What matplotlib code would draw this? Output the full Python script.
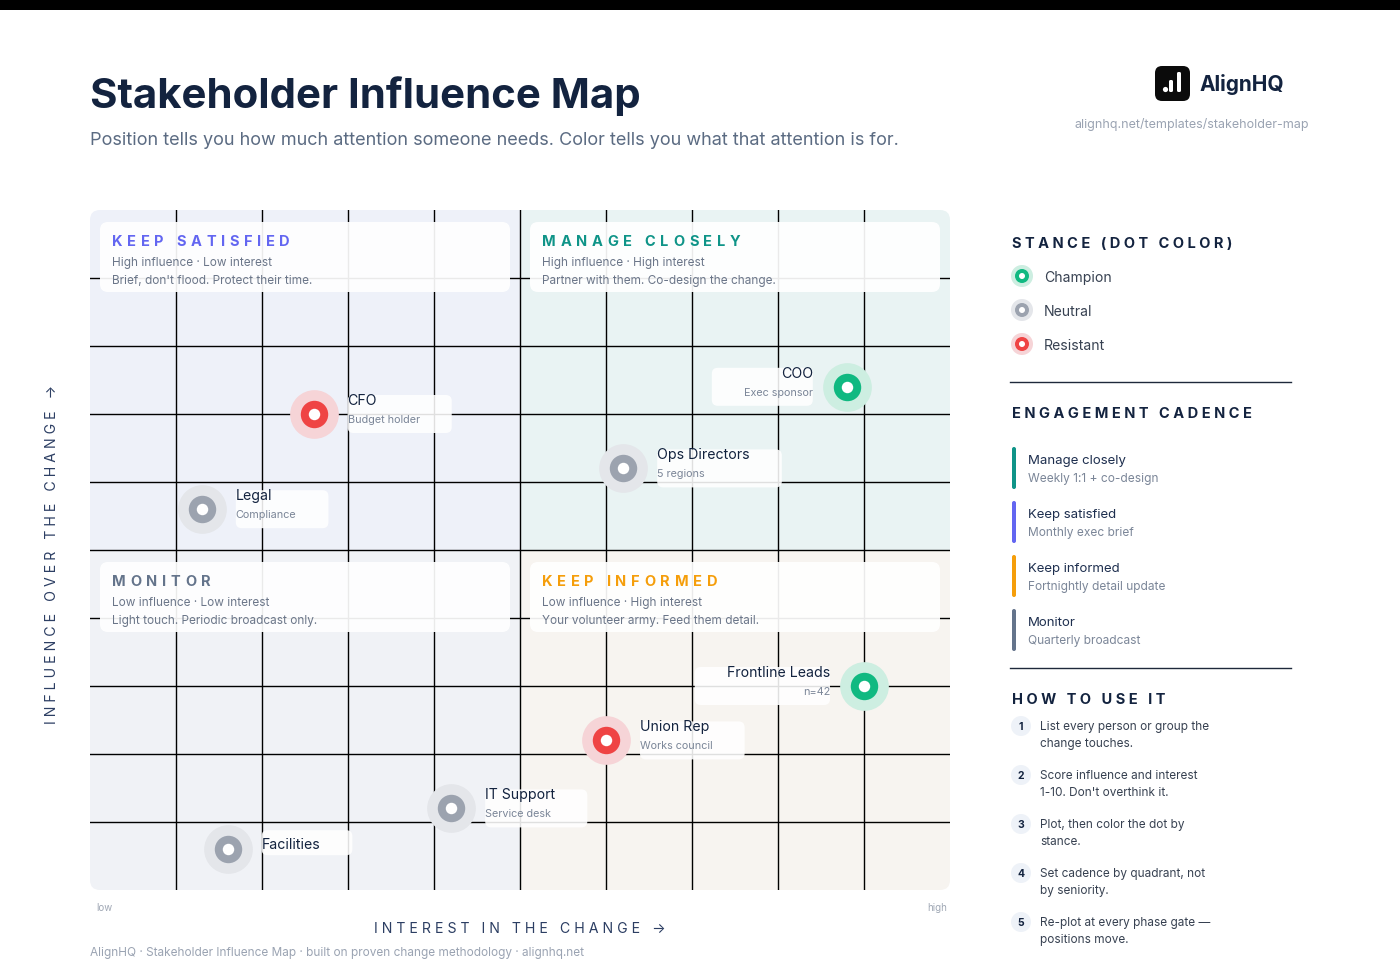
import matplotlib
matplotlib.use("Agg")
import matplotlib.pyplot as plt
import matplotlib.transforms as mtransforms
from matplotlib.patches import FancyBboxPatch, Rectangle, Circle
from matplotlib.lines import Line2D
from matplotlib.font_manager import FontProperties

W, H = 1400, 980

# stakeholders: interest (x), influence (y), both 0-10
names = ["CFO", "COO", "Ops Directors", "Legal", "Frontline Leads", "Union Rep", "IT Support", "Facilities"]
subs = ["Budget holder", "Exec sponsor", "5 regions", "Compliance", "n=42", "Works council", "Service desk", ""]
interest = [2.6, 8.8, 6.2, 1.3, 9.0, 6.0, 4.2, 1.6]
influence = [7.0, 7.4, 6.2, 5.6, 3.0, 2.2, 1.2, 0.6]
stance = ["Resistant", "Champion", "Neutral", "Neutral", "Champion", "Resistant", "Neutral", "Neutral"]
label_left = ["COO", "Frontline Leads"]

stances = ["Champion", "Neutral", "Resistant"]
stance_col = {"Champion": "#10b981", "Neutral": "#9ca3af", "Resistant": "#ef4444"}
stance_halo = {"Champion": "#cdeee1", "Neutral": "#e4e6ea", "Resistant": "#f6d4d7"}

quad_titles = ["KEEP SATISFIED", "MANAGE CLOSELY", "MONITOR", "KEEP INFORMED"]
quad_line1 = ["High influence · Low interest", "High influence · High interest",
              "Low influence · Low interest", "Low influence · High interest"]
quad_line2 = ["Brief, don't flood. Protect their time.", "Partner with them. Co-design the change.",
              "Light touch. Periodic broadcast only.", "Your volunteer army. Feed them detail."]
quad_colors = ["#6366f1", "#0f9488", "#64748b", "#f59e0b"]
quad_bg = ["#eef1f9", "#e9f3f3", "#f0f2f6", "#f7f4f0"]

cad_titles = ["Manage closely", "Keep satisfied", "Keep informed", "Monitor"]
cad_subs = ["Weekly 1:1 + co-design", "Monthly exec brief", "Fortnightly detail update", "Quarterly broadcast"]
cad_colors = ["#0f9488", "#6366f1", "#f59e0b", "#64748b"]

steps = [("List every person or group the", "change touches."),
         ("Score influence and interest", "1-10. Don't overthink it."),
         ("Plot, then color the dot by", "stance."),
         ("Set cadence by quadrant, not", "by seniority."),
         ("Re-plot at every phase gate —", "positions move.")]

NAVY = "#13233f"
GRAY = "#6b7689"
LIGHT = "#9aa3b2"
FAMILY = ['Inter', 'DejaVu Sans']

plt.rcParams['font.family'] = FAMILY

fig = plt.figure(figsize=(W / 100, H / 100), dpi=100)
fig.patch.set_facecolor("white")
px = mtransforms.Affine2D().scale(1, -1).translate(0, H)  # pixel coords, top-left origin
renderer = fig.canvas.get_renderer()


def txt(x, y, s, size, color, weight="normal", ha="left", va="center", **kw):
    if va == "center":
        y += 2
    return fig.text(x, y, s, transform=px, fontsize=size, color=color, fontweight=weight,
                    ha=ha, va=va, zorder=4, **kw)


def tracked(x, y, s, size, color, track, weight="bold"):
    # letter-spaced text, drawn one character at a time
    prop = FontProperties(family=FAMILY, size=size, weight=weight)
    wid = lambda c: renderer.get_text_width_height_descent(c, prop, ismath=False)[0]
    space = wid("x x") - wid("xx")
    for c in s:
        if c == " ":
            x += space + track
            continue
        txt(x, y, c, size, color, weight)
        x += wid(c) + track


def rbox(x, y, w, h, fc, r=8, alpha=1.0, z=2):
    p = FancyBboxPatch((x, y), w, h, boxstyle=f"round,pad=0,rounding_size={r}",
                       transform=px, fc=fc, ec="none", alpha=alpha, zorder=z)
    fig.add_artist(p)
    return p


def spaced(s):
    return " ".join(s)


# top bar
fig.add_artist(Rectangle((0, 0), W, 10, transform=px, fc="black", ec="none", zorder=1))

# header
txt(90, 108, "Stakeholder Influence Map", 30.2, NAVY, "bold", va="baseline")
txt(90, 145, "Position tells you how much attention someone needs. Color tells you what that attention is for.",
    13.0, "#5b6b82", va="baseline")

# logo
rbox(1155, 66, 35, 35, "#0b0b0b", r=7)
fig.add_artist(Circle((1165.5, 89.5), 2.6, transform=px, fc="white", ec="none", zorder=3))
rbox(1169, 80, 4, 12, "white", r=1.5, z=3)
rbox(1177, 72, 4, 20, "white", r=1.5, z=3)
txt(1200, 82, "AlignHQ", 15, NAVY, "bold")
txt(1309, 122, "alignhq.net/templates/stakeholder-map", 9, LIGHT, ha="right")

# main plot
ax = fig.add_axes([90 / W, (H - 890) / H, 860 / W, 680 / H])
ax.set_xlim(0, 10)
ax.set_ylim(0, 10)
ax.axis("off")
clip = FancyBboxPatch((90, 210), 860, 680, boxstyle="round,pad=0,rounding_size=10", transform=px)

for (x0, y0), col in zip([(0, 5), (5, 5), (0, 0), (5, 0)], quad_bg):
    r = Rectangle((x0, y0), 5, 5, fc=col, ec="none", zorder=0)
    ax.add_patch(r)
    r.set_clip_path(clip)
for v in range(1, 10):
    l1 = ax.axvline(v, color="black", lw=1, zorder=1)
    l2 = ax.axhline(v, color="black", lw=1, zorder=1)
    l1.set_clip_path(clip)
    l2.set_clip_path(clip)

# quadrant headers
for i, (bx, by) in enumerate([(100, 222), (530, 222), (100, 562), (530, 562)]):
    rbox(bx, by, 410, 70, "white", r=8, alpha=0.92)
    tracked(bx + 12, by + 18, quad_titles[i], 10.5, quad_colors[i], 4.7)
    txt(bx + 12, by + 39, quad_line1[i], 8.5, GRAY)
    txt(bx + 12, by + 57, quad_line2[i], 8.5, GRAY)

# dots
for st in stances:
    xs = [x for x, s in zip(interest, stance) if s == st]
    ys = [y for y, s in zip(influence, stance) if s == st]
    ax.scatter(xs, ys, s=1230, color=stance_halo[st], lw=0, zorder=4)
    ax.scatter(xs, ys, s=390, color=stance_col[st], lw=0, zorder=5)
    ax.scatter(xs, ys, s=68, color="white", lw=0, zorder=6)

# labels
label_texts = []
for n, sb, x, y in zip(names, subs, interest, influence):
    dx, dy = ax.transData.transform((x, y))
    dy = H - dy
    left = n in label_left
    lx = dx - 34 if left else dx + 34
    ha = "right" if left else "left"
    if sb:
        t1 = txt(lx, dy - 15, n, 10.2, NAVY, ha=ha)
        t2 = txt(lx, dy + 4, sb, 7.8, "#7b8698", ha=ha)
        label_texts.append((lx, dy, left, [t1, t2], True))
    else:
        t1 = txt(lx, dy - 6, n, 10.2, NAVY, ha=ha)
        label_texts.append((lx, dy, left, [t1], False))

fig.canvas.draw()
renderer = fig.canvas.get_renderer()
for lx, dy, left, ts, has_sub in label_texts:
    w = max(t.get_window_extent(renderer).width for t in ts) + 32
    x0 = lx - w if left else lx
    if has_sub:
        rbox(x0, dy - 19, w, 38, "white", r=6, alpha=0.88)
    else:
        rbox(x0, dy - 19, w, 25, "white", r=6, alpha=0.88)

# axis captions
txt(96, 906, "low", 7, "#a0a8b5")
txt(947, 906, "high", 7, "#a0a8b5", ha="right")
txt(520, 927, spaced("INTEREST IN THE CHANGE") + "   →", 10.2, "#2c3e63", ha="center")
txt(52, 552, spaced("INFLUENCE OVER THE CHANGE") + "   →", 10.2, "#2c3e63", ha="center", rotation=90)
txt(90, 951, "AlignHQ · Stakeholder Influence Map · built on proven change methodology · alignhq.net", 8.5, LIGHT)

# right panel: stance legend
txt(1012, 242, spaced("STANCE (DOT COLOR)"), 10.5, NAVY, "bold")
for i, st in enumerate(stances):
    cy = 276 + 34 * i
    fig.add_artist(Circle((1022, cy), 11, transform=px, fc=stance_halo[st], ec="none", zorder=3))
    fig.add_artist(Circle((1022, cy), 7, transform=px, fc=stance_col[st], ec="none", zorder=3))
    fig.add_artist(Circle((1022, cy), 3, transform=px, fc="white", ec="none", zorder=3))
    txt(1044, cy, st, 10.1, "#374151")

fig.add_artist(Line2D([1010, 1291], [382, 382], transform=px, color="#1e293b", lw=1))

txt(1012, 412, spaced("ENGAGEMENT CADENCE"), 10.5, NAVY, "bold")
for i, (t, sb, c) in enumerate(zip(cad_titles, cad_subs, cad_colors)):
    y0 = 447 + 54 * i
    rbox(1012, y0, 4, 42, c, r=2)
    txt(1028, y0 + 12, t, 9.5, "#1e2f4f")
    txt(1028, y0 + 30, sb, 8.6, "#7b8698")

fig.add_artist(Line2D([1010, 1291], [668, 668], transform=px, color="#1e293b", lw=1))

txt(1012, 698, spaced("HOW TO USE IT"), 10.5, NAVY, "bold")
for i, (a, b) in enumerate(steps):
    cy = 726 + 49 * i
    fig.add_artist(Circle((1021, cy), 10, transform=px, fc="#eef2f8", ec="none", zorder=3))
    txt(1021, cy - 1, str(i + 1), 7.5, NAVY, "bold", ha="center")
    txt(1040, cy - 1, a, 8.5, "#374151")
    txt(1040, cy + 16, b, 8.5, "#374151")

fig.savefig("out.png", dpi=100, facecolor="white")
